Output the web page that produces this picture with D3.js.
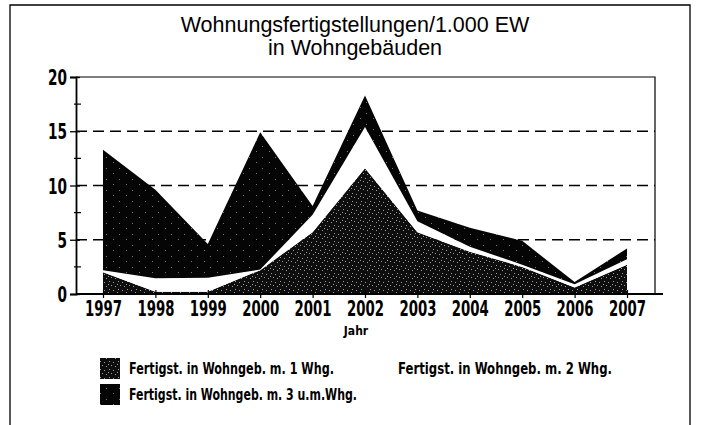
<!DOCTYPE html>
<html>
<head>
<meta charset="utf-8">
<script src="https://cdn.jsdelivr.net/npm/d3@7"></script>
<style>
  body { margin: 0; background: #fff; }
  svg { display: block; }
  .cond { font-family: "DejaVu Sans Condensed", "DejaVu Sans", sans-serif; }
</style>
</head>
<body>
<svg id="chart" width="702" height="425"></svg>
<script>
// data
var years = ["1997","1998","1999","2000","2001","2002","2003","2004","2005","2006","2007"];
var einWhg   = [2.0, 0.2, 0.2, 2.2, 5.7, 11.6, 5.7, 3.9, 2.5, 0.6, 2.7];
var zweiWhg  = [0.2, 1.25, 1.3, 0.05, 1.6, 3.8, 1.0, 0.45, 0.2, 0.3, 0.5];
var dreiWhg  = [11.1, 8.15, 3.1, 12.65, 0.8, 2.9, 1.0, 1.75, 2.2, 0.2, 1.0];
var yTicks = [0, 5, 10, 15, 20];
var yMinor = [2.5, 7.5, 12.5, 17.5];
var legendLabels = ["Fertigst. in Wohngeb. m. 1 Whg.", "Fertigst. in Wohngeb. m. 2 Whg.", "Fertigst. in Wohngeb. m. 3 u.m.Whg."];

var rows = years.map(function(y, i){
  return {year: y, s1: einWhg[i], s2: zweiWhg[i], s3: dreiWhg[i]};
});

var svg = d3.select("#chart");
var plot = {left: 76, right: 655, top: 77, bottom: 294};

var x = d3.scalePoint().domain(years).range([103, 627]);
var y = d3.scaleLinear().domain([0, 20]).range([plot.bottom, plot.top]);

// textures
var defs = svg.append("defs");
var p1 = defs.append("pattern").attr("id","stip1").attr("patternUnits","userSpaceOnUse")
  .attr("width",9).attr("height",8);
p1.append("rect").attr("width",9).attr("height",8).attr("fill","#0e0e0e");
[[1,1],[5,2],[3,5],[7,6],[0,4]].forEach(function(d){
  p1.append("rect").attr("x",d[0]).attr("y",d[1]).attr("width",1).attr("height",1).attr("fill","#9a9a9a");
});
var p3 = defs.append("pattern").attr("id","stip3").attr("patternUnits","userSpaceOnUse")
  .attr("width",13).attr("height",11);
p3.append("rect").attr("width",13).attr("height",11).attr("fill","#050505");
[[2,3],[9,8]].forEach(function(d){
  p3.append("rect").attr("x",d[0]).attr("y",d[1]).attr("width",1).attr("height",1).attr("fill","#777");
});

// outer frame
svg.append("path").attr("d","M10,425V5H690V425").attr("fill","none").attr("stroke","#000").attr("stroke-width",1.3);

// title
var title = svg.append("text").attr("text-anchor","middle")
  .attr("font-family","'Liberation Sans', Arial, sans-serif").attr("font-size",21.5).attr("fill","#000");
title.append("tspan").attr("x",355).attr("y",32).text("Wohnungsfertigstellungen/1.000 EW");
title.append("tspan").attr("x",355).attr("y",55).text("in Wohngebäuden");

// dashed grid
svg.append("g").selectAll("line").data([5,10,15]).join("line")
  .attr("x1",plot.left).attr("x2",plot.right)
  .attr("y1",function(d){return y(d);}).attr("y2",function(d){return y(d);})
  .attr("stroke","#000").attr("stroke-width",1.6).attr("stroke-dasharray","11,6");

// stacked areas
var stack = d3.stack().keys(["s1","s2","s3"]);
var series = stack(rows);
var fills = ["url(#stip1)", "#fff", "url(#stip3)"];
var area = d3.area()
  .x(function(d){return x(d.data.year);})
  .y0(function(d){return y(d[0]);})
  .y1(function(d){return y(d[1]);});
svg.append("g").selectAll("path").data(series).join("path")
  .attr("d", area).attr("fill", function(d,i){return fills[i];});

// plot frame (top + right)
svg.append("path").attr("d","M"+plot.left+","+plot.top+"H"+plot.right+"V"+plot.bottom)
  .attr("fill","none").attr("stroke","#000").attr("stroke-width",1.2);

// y axis
var yAxis = svg.append("g").attr("class","cond").attr("transform","translate("+plot.left+",0)")
  .call(d3.axisLeft(y).tickValues(yTicks).tickSize(6).tickPadding(3).tickFormat(d3.format("d")));
yAxis.select(".domain").attr("stroke-width",1.8);
yAxis.selectAll(".tick line").attr("x2",-6).attr("x1",4).attr("stroke-width",1.3);
yAxis.selectAll("text").attr("font-size",21).attr("font-weight","bold").attr("dy","0.36em")
  .attr("textLength",function(d){return String(d).length * 9.5;}).attr("lengthAdjust","spacingAndGlyphs");
svg.append("g").attr("transform","translate("+plot.left+",0)")
  .selectAll("line").data(yMinor).join("line")
  .attr("x1",-2).attr("x2",5)
  .attr("y1",function(d){return y(d);}).attr("y2",function(d){return y(d);})
  .attr("stroke","#000").attr("stroke-width",1.2);

// x axis
var xAxis = svg.append("g").attr("class","cond").attr("transform","translate(0,"+plot.bottom+")")
  .call(d3.axisBottom(x).tickSize(4).tickPadding(3).tickSizeOuter(0));
xAxis.select(".domain").attr("d","M"+plot.left+",0H"+(plot.right+8)).attr("stroke-width",1.8);
xAxis.selectAll(".tick line").attr("y1",-4).attr("y2",4).attr("stroke-width",1.2);
xAxis.selectAll("text").attr("font-size",21).attr("font-weight","bold")
  .attr("textLength",37).attr("lengthAdjust","spacingAndGlyphs");

svg.append("text").attr("class","cond").attr("x",356).attr("y",335).attr("text-anchor","middle")
  .attr("font-size",12).attr("font-weight","bold").text("Jahr");

// legend
var legend = [
  {label: legendLabels[0], fill: "url(#stip1)", x: 100, y: 358, w: 205},
  {label: legendLabels[1], fill: "#fff", x: 369, y: 358, w: 214},
  {label: legendLabels[2], fill: "url(#stip3)", x: 100, y: 384, w: 228}
];
var lg = svg.append("g").attr("class","cond");
lg.selectAll("rect").data(legend).join("rect")
  .attr("x",function(d){return d.x;}).attr("y",function(d){return d.y;})
  .attr("width",20).attr("height",21).attr("fill",function(d){return d.fill;});
lg.selectAll("text").data(legend).join("text")
  .attr("x",function(d){return d.x + 29;}).attr("y",function(d){return d.y + 16;})
  .attr("font-size",16.5).attr("font-weight","bold").attr("fill","#000")
  .attr("textLength",function(d){return d.w;}).attr("lengthAdjust","spacingAndGlyphs")
  .text(function(d){return d.label;});
</script>
</body>
</html>
